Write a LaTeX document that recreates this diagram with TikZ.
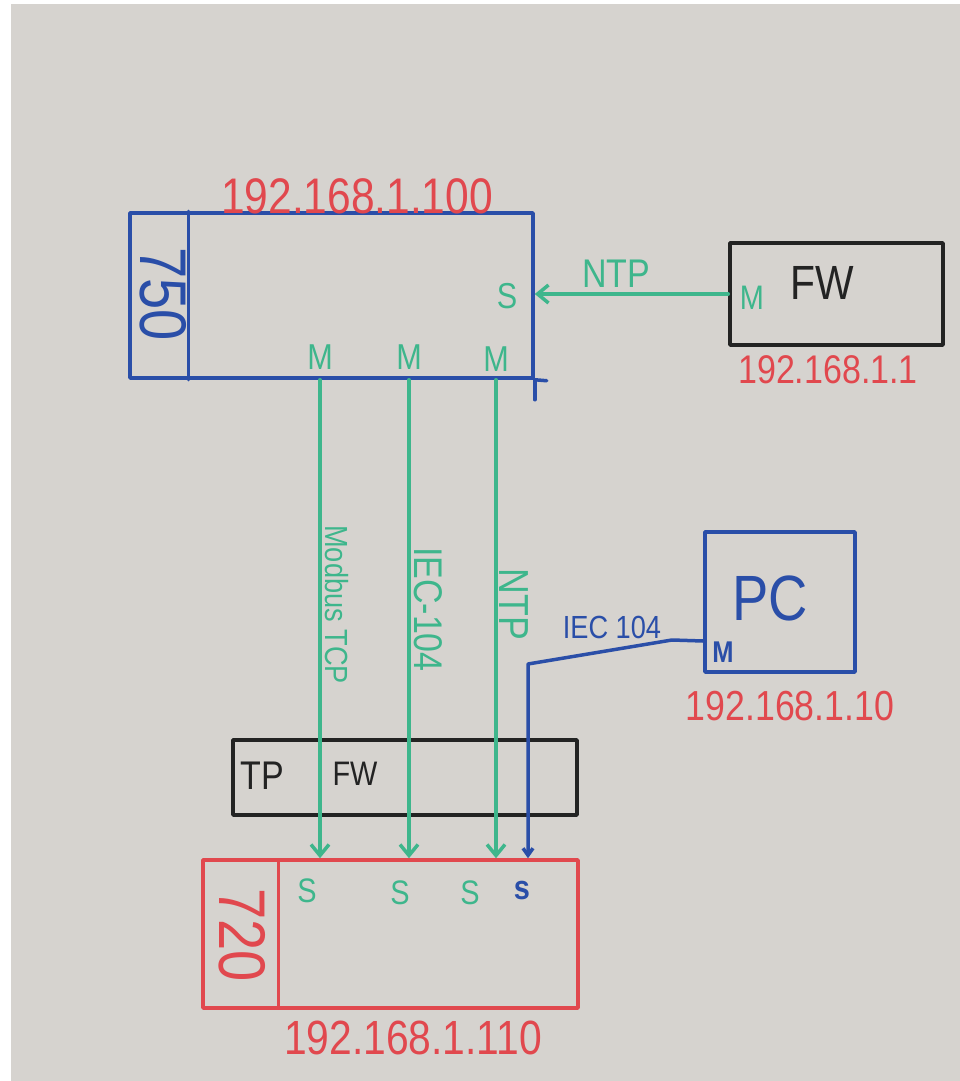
\documentclass[tikz,border=0pt]{standalone}
\usepackage{fontspec}
\setmainfont[FakeStretch=0.85]{Liberation Sans}
\usetikzlibrary{calc,arrows.meta}
\definecolor{mblue}{RGB}{42,78,168}
\definecolor{mgreen}{RGB}{62,182,140}
\definecolor{mred}{RGB}{225,72,78}
\definecolor{mblack}{RGB}{35,35,35}
\definecolor{board}{RGB}{214,211,207}
\begin{document}
\begin{tikzpicture}[x=1pt,y=-1pt,
  box/.style={draw, line width=3.5pt, inner sep=0pt, line join=round},
  lbl/.style={inner sep=0pt, font=\fontsize{#1}{#1}\selectfont},
  gline/.style={draw=mgreen, line width=3.5pt, line cap=round},
  bline/.style={draw=mblue, line width=3.5pt, line cap=round, line join=round},
  tipv/.style={-{Straight Barb[length=11pt,width=18pt]}}]
\fill[white] (0,0) rectangle (960,1081);
\fill[board] (11,4) rectangle (960,1081);
\useasboundingbox (0,0) rectangle (960,1081);

% 750 controller
\node[box, draw=mblue, minimum width=403pt, minimum height=165pt] (n750) at (331.5,295.5) {};
\draw[bline] ($(n750.north west)+(60,0)$) -- ($(n750.south west)+(60,0)$);
\draw[bline] (n750.south east) -- ++(12,1);
\draw[bline] (n750.south east) -- ++(0,20);
\node[lbl=66, text=mblue, rotate=-90] (t750) at (163,294) {750};
\node[lbl=50, text=mred] (ip750) at (357,196) {192.168.1.100};
\node[lbl=36, text=mgreen] (s750) at (507,296) {S};
\node[lbl=36, text=mgreen] (m1) at (320,357) {M};
\node[lbl=36, text=mgreen] (m2) at (409,357) {M};
\node[lbl=36, text=mgreen] (m3) at (496,359) {M};

% FW
\node[box, draw=mblack, minimum width=213pt, minimum height=102pt] (fw) at (836.5,294) {};
\node[lbl=48, text=mblack] (fwt) at (822,283) {FW};
\node[lbl=34, text=mgreen] (fwm) at (752,298) {M};
\node[lbl=40, text=mred] (fwip) at (828,370) {192.168.1.1};

% PC
\node[box, draw=mblue, minimum width=150pt, minimum height=140pt] (pc) at (780,602) {};
\node[lbl=64, text=mblue] (pct) at (770,598) {PC};
\node[lbl=30, text=mblue] (pcm) at (723,652) {\textbf{M}};
\node[lbl=42, text=mred] (pcip) at (790,706) {192.168.1.10};

% TP FW
\node[box, draw=mblack, minimum width=344pt, minimum height=75pt] (tpfw) at (405,777.5) {};
\node[lbl=40, text=mblack] (tpt) at (262,776) {TP};
\node[lbl=34, text=mblack] (tpfwt) at (355,774) {FW};

% 720 controller
\node[box, draw=mred, minimum width=375pt, minimum height=148pt] (n720) at (390.5,934) {};
\draw[draw=mred, line width=3.5pt] ($(n720.north west)+(77,0)$) -- ($(n720.south west)+(77,0)$);
\node[lbl=66, text=mred, rotate=-90] (t720) at (242,935) {720};
\node[lbl=48, text=mred] (ip720) at (413,1038) {192.168.1.110};
\node[lbl=34, text=mgreen] (s1) at (307,891) {S};
\node[lbl=34, text=mgreen] (s2) at (400,893) {S};
\node[lbl=34, text=mgreen] (s3) at (470,893) {S};
\node[lbl=34, text=mblue] (s4) at (522,890) {\textbf{s}};

% connectors
\draw[gline, tipv] (fw.west) -- (fw.west -| n750.east)
  node (lntp1) [pos=0.58, above=5pt, lbl=40, text=mgreen] {NTP};
\draw[gline, tipv] (m1 |- n750.south) -- (m1 |- n720.north)
  node (lmod) [pos=0.47, lbl=32, text=mgreen, rotate=-90, anchor=south, outer sep=5pt] {Modbus TCP};
\draw[gline, tipv] (m2 |- n750.south) -- (m2 |- n720.north)
  node (liec) [pos=0.48, lbl=40, text=mgreen, rotate=-90, anchor=south, outer sep=5pt] {IEC-104};
\draw[gline, tipv] (m3 |- n750.south) -- (m3 |- n720.north)
  node (lntp2) [pos=0.47, lbl=42, text=mgreen, rotate=-90, anchor=south, outer sep=3pt] {NTP};
\coordinate (pcport) at ($(pc.west)+(0,39)$);
\coordinate (bend) at (528,664);
\draw[bline, -{Straight Barb[length=7pt,width=10pt]}] (pcport) -- (672,640) -- (bend) -- (bend |- n720.north);
\node[lbl=32, text=mblue] (liec2) at (612,627) {IEC 104};
\end{tikzpicture}
\end{document}
